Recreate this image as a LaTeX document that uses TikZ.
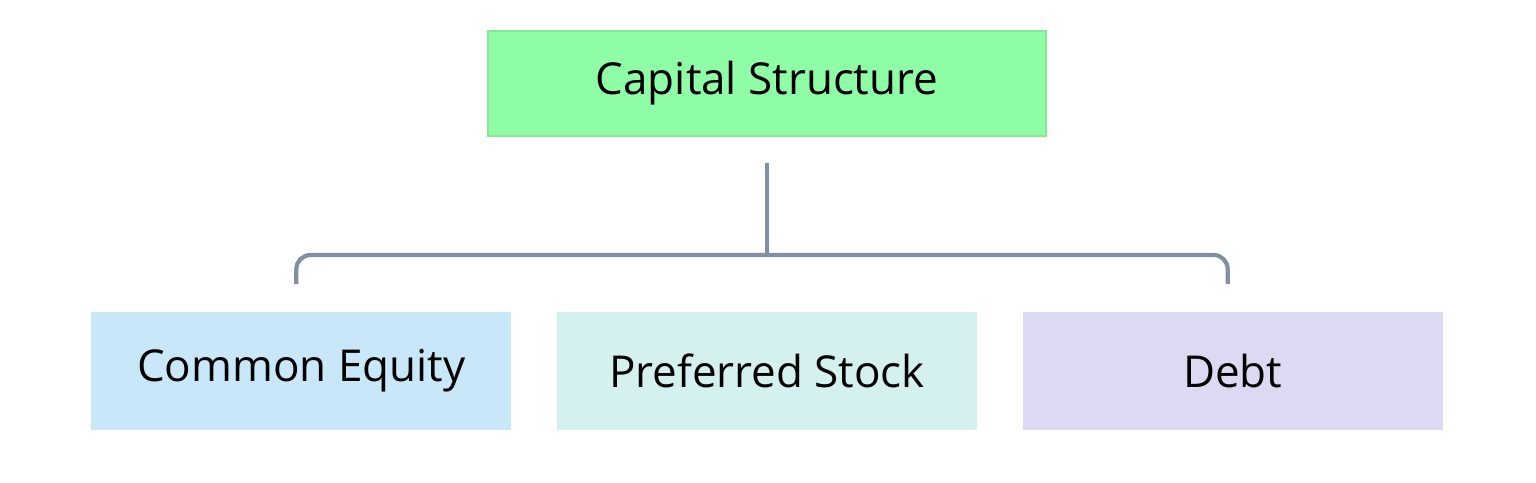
\documentclass[tikz,border=0pt]{standalone}
\usepackage{fontspec}
\setmainfont{Open Sans}
\usetikzlibrary{positioning,calc}
\definecolor{capgreen}{RGB}{143,252,166}
\definecolor{eqblue}{RGB}{200,232,250}
\definecolor{prefteal}{RGB}{212,241,240}
\definecolor{debtlav}{RGB}{220,217,242}
\definecolor{linkgray}{RGB}{128,143,163}
\tikzset{box/.style={rectangle,minimum width=4.2cm,minimum height=1.18cm,inner sep=0,font=\fontsize{12.5}{15}\selectfont},
    topbox/.style={box,minimum width=5.58cm,minimum height=1.05cm,draw=capgreen!80!black!40!capgreen},
    link/.style={draw=linkgray,line width=1.2pt,rounded corners=4pt}
}
\begin{document}
\begin{tikzpicture}[x=0.01cm,y=-0.01cm]
\useasboundingbox (0,0) rectangle (1536,483);

\node (cap) at (767,83.5) [topbox,fill=capgreen] {Capital Structure};
\node (pref) at (767,371) [box,fill=prefteal] {Preferred Stock};
\node (equity) [box,fill=eqblue,left=0.44cm of pref] {Common Equity};
\node (debt) [box,fill=debtlav,right=0.44cm of pref] {Debt};

% tree connector
\coordinate (capfoot) at ([yshift=-0.26cm]cap.south);
\coordinate (bus) at (767,255);
\coordinate (eqtop) at ([xshift=-0.05cm,yshift=0.27cm]equity.north);
\coordinate (debttop) at ([xshift=-0.05cm,yshift=0.27cm]debt.north);

\draw [link] (capfoot) -- (bus);
\draw [link] (eqtop) |- (bus) -| (debttop);

\end{tikzpicture}
\end{document}
